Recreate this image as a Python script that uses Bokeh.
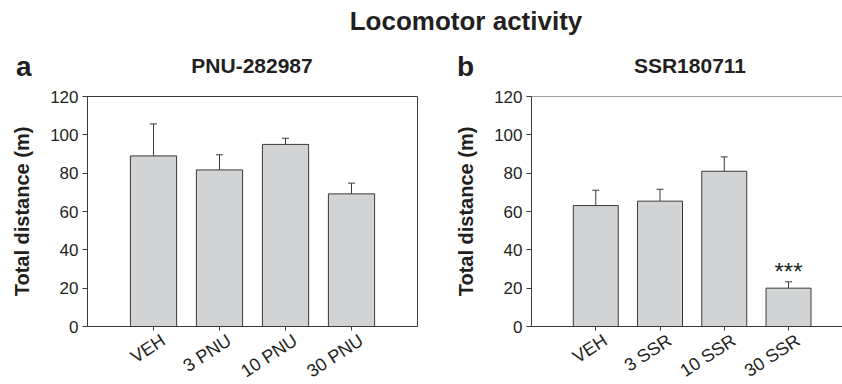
from bokeh.plotting import figure
from bokeh.models import (ColumnDataSource, Whisker, TeeHead, Span, Div, Range1d,
                          LinearAxis, FixedTicker)
from bokeh.core.properties import value
from bokeh.layouts import column, row
from bokeh.embed import file_html
from bokeh.resources import INLINE

# ---- data ----
categories_a = ["VEH", "3 PNU", "10 PNU", "30 PNU"]
mean_a = [89.0, 81.7, 95.0, 69.2]
sem_a = [16.7, 7.9, 3.2, 5.6]

categories_b = ["VEH", "3 SSR", "10 SSR", "30 SSR"]
mean_b = [63.1, 65.4, 81.0, 20.0]
sem_b = [8.0, 6.2, 7.5, 3.3]
sig_b = ["", "", "", "***"]

y_ticks = [0, 20, 40, 60, 80, 100, 120]
main_title = "Locomotor activity"
title_a = "PNU-282987"
title_b = "SSR180711"
letter_a = "a"
letter_b = "b"
y_label = "Total distance (m)"

FONT = "Liberation Sans"
TXT = "#231f20"
LINE = "#3a3a3a"
FILL = "#d1d3d4"
LABEL_SHIFT = 0.15  # tick labels sit slightly right of their ticks, as in the original


def make_panel(cats, means, sems, width, border_left, border_right, x_end, boxed, sig=None):
    xs = [i + 1 for i in range(len(cats))]
    hi = [m + s for m, s in zip(means, sems)]
    src = ColumnDataSource(dict(x=xs, mean=means, hi=hi,
                                sig=sig if sig else [""] * len(cats)))
    p = figure(width=width, height=310, x_range=Range1d(0, x_end), y_range=Range1d(0, 120),
               output_backend="svg", toolbar_location=None,
               min_border_left=border_left, min_border_right=border_right,
               min_border_top=12, min_border_bottom=68)

    p.vbar(x="x", top="mean", bottom=0, width=0.7, source=src,
           fill_color=FILL, line_color=LINE, line_width=1)
    w = Whisker(source=src, base="x", lower="mean", upper="hi", dimension="height",
                line_color=LINE, line_width=1,
                upper_head=TeeHead(size=7, line_color=LINE, line_width=1), lower_head=None)
    p.add_layout(w)
    if sig:
        p.text(x="x", y="hi", text="sig", source=src, text_align="center",
               text_baseline="alphabetic", y_offset=-10, text_font=value(FONT),
               text_font_size="24px", text_color=TXT)

    p.xgrid.visible = False
    p.ygrid.visible = False
    if boxed:
        p.outline_line_color = LINE
        p.outline_line_width = 1
    else:
        p.outline_line_color = None
        p.add_layout(Span(location=120, dimension="width", line_color=LINE, line_width=1))

    ya = p.yaxis[0]
    ya.ticker = y_ticks
    ya.major_tick_out = 5
    ya.major_tick_in = 0
    ya.minor_tick_out = 0
    ya.minor_tick_in = 0
    ya.axis_line_color = LINE
    ya.major_tick_line_color = LINE
    ya.major_label_text_font = FONT
    ya.major_label_text_font_size = "17px"
    ya.major_label_text_color = TXT
    ya.major_label_standoff = 4
    ya.axis_label = y_label
    ya.axis_label_text_font = FONT
    ya.axis_label_text_font_size = "20px"
    ya.axis_label_text_font_style = "bold"
    ya.axis_label_text_color = TXT
    ya.axis_label_standoff = 14

    # axis with the tick marks (labels drawn by a second axis below)
    xa = p.xaxis[0]
    xa.ticker = xs
    xa.major_label_overrides = {x: "" for x in xs}
    xa.major_label_text_font_size = "0px"
    xa.major_label_standoff = 0
    xa.major_tick_out = 4
    xa.major_tick_in = 0
    xa.minor_tick_out = 0
    xa.minor_tick_in = 0
    xa.axis_line_color = LINE
    xa.major_tick_line_color = LINE

    label_pos = [x + LABEL_SHIFT for x in xs]
    xl = LinearAxis(ticker=FixedTicker(ticks=label_pos),
                    major_label_overrides={x: c for x, c in zip(label_pos, cats)},
                    axis_line_color=None, major_tick_line_color=None,
                    minor_tick_line_color=None, major_tick_out=0, major_tick_in=0,
                    minor_tick_out=0, minor_tick_in=0,
                    major_label_orientation=0.58, major_label_standoff=8,
                    major_label_text_font=FONT, major_label_text_font_size="18px",
                    major_label_text_color=TXT)
    p.add_layout(xl, "below")
    return p


p1 = make_panel(categories_a, mean_a, sem_a, 420, 87, 3, 5.0, True)
p2 = make_panel(categories_b, mean_b, sem_b, 422, 111, 0, 4.84, False, sig_b)

base = "position:absolute;font-family:'Liberation Sans',Arial,sans-serif;font-weight:bold;color:#231f20;white-space:nowrap;"
html = (
    '<div style="position:relative;width:842px;height:84px;">'
    f'<div style="{base}left:266px;top:6px;width:400px;text-align:center;font-size:26px;line-height:30px;">{main_title}</div>'
    f'<div style="{base}left:16px;top:53px;font-size:28px;line-height:28px;">{letter_a}</div>'
    f'<div style="{base}left:457px;top:53px;font-size:28px;line-height:28px;">{letter_b}</div>'
    f'<div style="{base}left:102px;top:55px;width:300px;text-align:center;font-size:21px;line-height:21px;">{title_a}</div>'
    f'<div style="{base}left:540px;top:55px;width:300px;text-align:center;font-size:21px;line-height:21px;">{title_b}</div>'
    '</div>'
)
head = Div(text=html, width=842, height=84, margin=(0, 0, 0, 0))

layout = column(head, row(p1, p2), width=842, height=384, styles={"overflow": "hidden"})
open("out.html", "w").write(file_html(layout, INLINE))
